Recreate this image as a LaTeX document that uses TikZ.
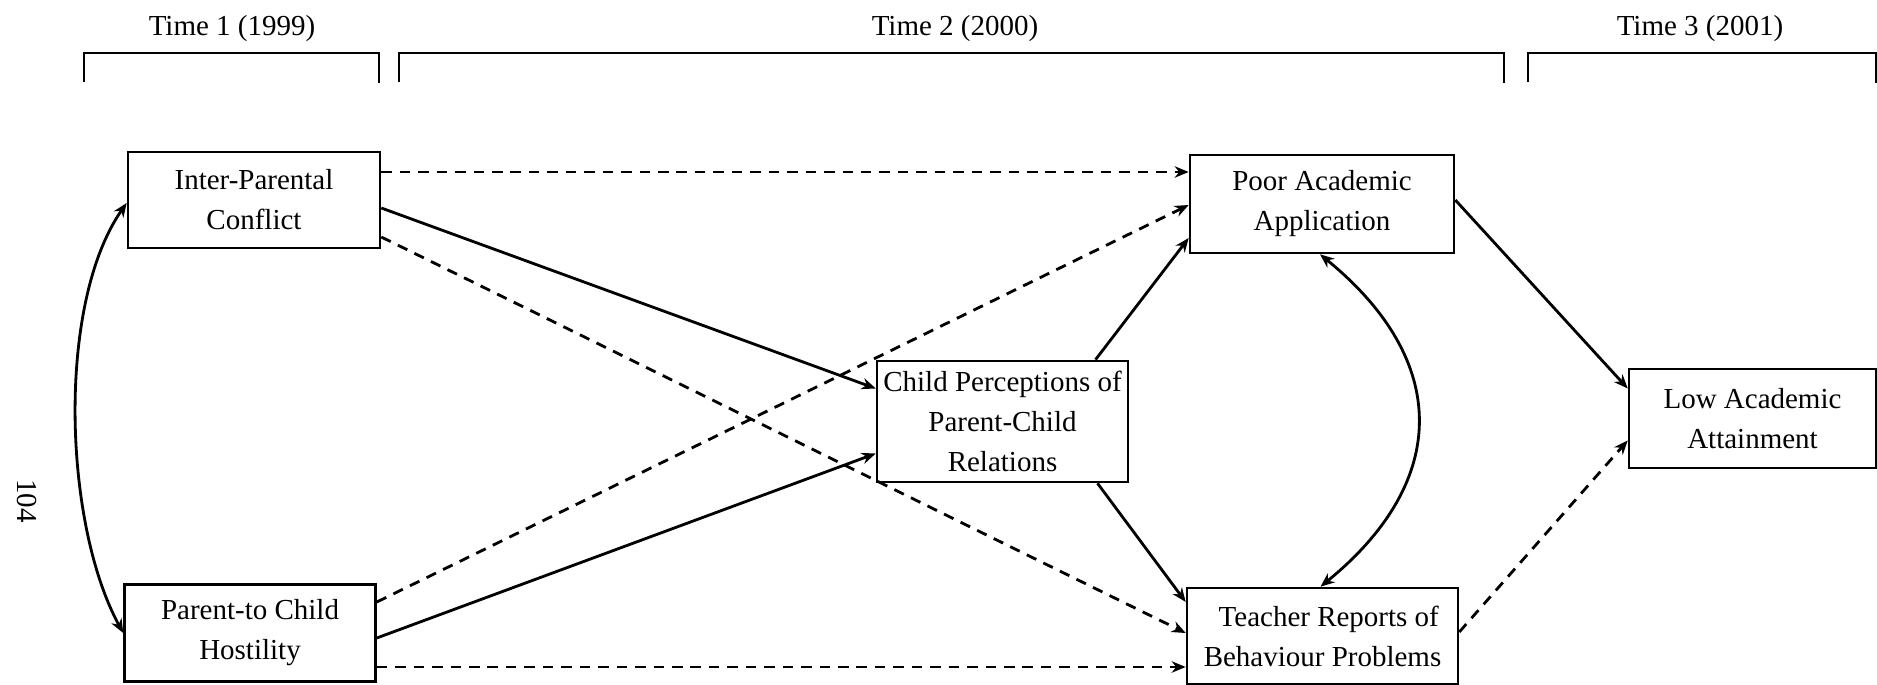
\documentclass[tikz,border=0pt]{standalone}
\usepackage{fontspec}
\setmainfont{Liberation Serif}
\usetikzlibrary{arrows.meta,calc}

\newcommand\boxfont{\fontsize{16.5}{22.8}\selectfont}

\tikzset{
    box/.style={draw, line width=1.5pt, align=center, inner sep=0pt, font=\boxfont},
    path/.style={line width=1.6pt, -{Stealth[length=8pt,width=6.5pt]}},
    dashpath/.style={path, dash pattern=on 6pt off 4.5pt},
    bothways/.style={line width=1.6pt, {Stealth[length=8pt,width=6.5pt]}-{Stealth[length=8pt,width=6.5pt]}},
    bracket/.style={line width=1.1pt},
    timelabel/.style={font=\boxfont, anchor=base}
}

\begin{document}
\begin{tikzpicture}[x=0.02cm, y=-0.02cm]
    \useasboundingbox (0,0) rectangle (1877,685);

    % Time brackets and their labels
    \foreach \l/\r in {84/379, 399/1504, 1528/1876}
        \draw[bracket] (\l,82) |- (\r,53) -- (\r,83);
    \node[timelabel] (time1) at (232,36) {Time 1 (1999)};
    \node[timelabel] (time2) at (955,36) {Time 2 (2000)};
    \node[timelabel] (time3) at (1700,36) {Time 3 (2001)};

    % Page number
    \node[font=\boxfont, rotate=-90] (page) at (27,501) {104};

    % Time 1 variables
    \node[box, minimum width=5.04cm, minimum height=1.92cm] (inter) at (254,200) {Inter-Parental\\Conflict};
    \node[box, minimum width=5.02cm, minimum height=1.94cm] (parent) at (250,633) {Parent-to Child\\Hostility};

    % Time 2 variables
    \node[box, minimum width=5.02cm, minimum height=2.42cm] (child) at (1002.5,421.5) {Child Perceptions of\\Parent-Child\\Relations};
    \node[box, minimum width=5.28cm, minimum height=1.96cm] (poor) at (1322,204) {Poor Academic\\Application};
    \node[box, minimum width=5.42cm, minimum height=1.92cm] (teacher) at (1322.5,636) {\hspace{0.25cm}Teacher Reports of\\Behaviour Problems};

    % Time 3 variable
    \node[box, minimum width=4.94cm, minimum height=1.98cm] (low) at (1752.5,418.5) {Low Academic\\Attainment};

    % Paths from inter-parental conflict
    \draw[dashpath] ($(inter.east)+(0,-28)$) -- ($(poor.west)+(0,-32)$);
    \draw[path] ($(inter.east)+(0,8)$) -- ($(child.west)+(0,-33)$);
    \draw[dashpath] ($(inter.east)+(0,37)$) -- ($(teacher.west)+(0,-3)$);

    % Paths from parent-to-child hostility
    \draw[dashpath] ($(parent.east)+(0,-31)$) -- ($(poor.west)+(0,1)$);
    \draw[path] ($(parent.east)+(0,5)$) -- ($(child.west)+(0,32)$);
    \draw[dashpath] ($(parent.east)+(0,34)$) -- ($(teacher.west)+(0,31)$);

    % Paths from child perceptions
    \draw[path] ($(child.north)+(93,0)$) -- ($(poor.west)+(0,34)$);
    \draw[path] ($(child.south)+(95,0)$) -- ($(teacher.west)+(0,-34)$);

    % Paths to low attainment
    \draw[path] ($(poor.east)+(0,-4)$) -- ($(low.west)+(0,-30)$);
    \draw[dashpath] ($(teacher.east)+(0,-4)$) -- ($(low.west)+(0,22)$);

    % Correlations
    \draw[bothways] ($(inter.west)+(0,3)$) .. controls +(-70,100) and +(-60,-110) .. (parent.west);
    \draw[bothways] ($(poor.south)+(-2,0)$) .. controls +(130,106) and +(130,-106) .. ($(teacher.north)+(-2,0)$);

\end{tikzpicture}
\end{document}
